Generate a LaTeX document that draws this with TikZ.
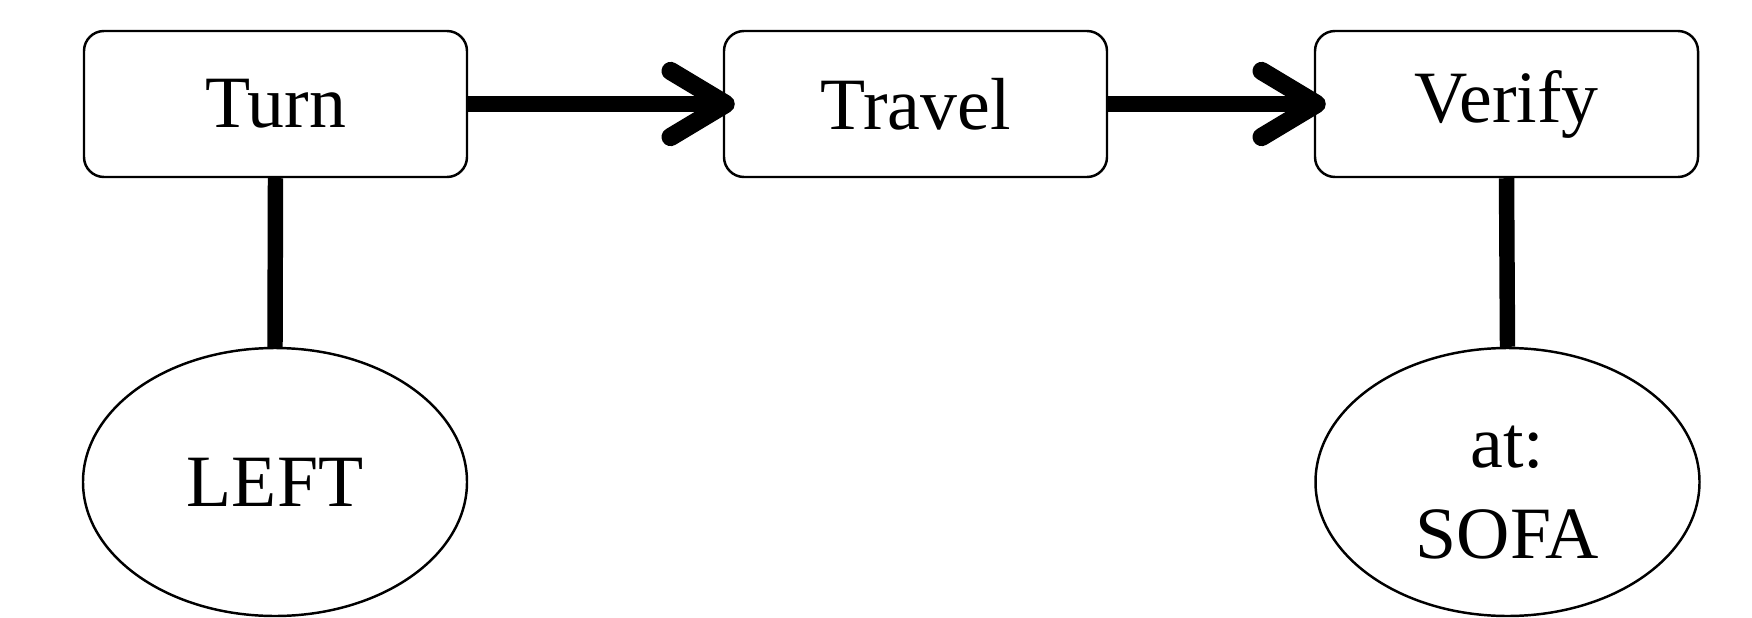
\documentclass[tikz,border=0pt]{standalone}
\usepackage{fontspec}
\setmainfont{Liberation Serif}
\usetikzlibrary{shapes.geometric,arrows.meta}
\begin{document}
\begin{tikzpicture}[
    action/.style={draw, rounded corners=0.2cm, line width=0.7pt, minimum width=3.83cm, minimum height=1.46cm, font=\fontsize{21}{26}\selectfont},
    param/.style={draw, ellipse, line width=0.7pt, minimum width=3.84cm, minimum height=2.68cm, inner sep=0pt, align=center, font=\fontsize{21}{26}\selectfont},
    flow/.style={line width=4.8pt, -{Straight Barb[length=0.55cm, width=0.66cm, line width=5.2pt, line cap=round, line join=round]}, shorten >=-0.12cm},
    link/.style={line width=4.4pt}]
\useasboundingbox (0,0) rectangle (17.52,6.17);
    % top row of steps
    \node[action] (turn) at (2.755,5.13) {Turn};
    \node[action] (travel) at (9.155,5.13) {Travel};
    \node[action] (verify) at (15.065,5.13) {Verify};
    % arguments below
    \node[param] (left) at (2.75,1.35) {LEFT};
    \node[param, text height=1.54cm] (sofa) at (15.075,1.35) {at:\\SOFA};
    \draw[flow] (turn.east) -- (travel.west);
    \draw[flow] (travel.east) -- (verify.west);
    \draw[link] (turn.south) -- (left.north);
    \draw[link] (verify.south) -- (sofa.north);
\end{tikzpicture}
\end{document}
